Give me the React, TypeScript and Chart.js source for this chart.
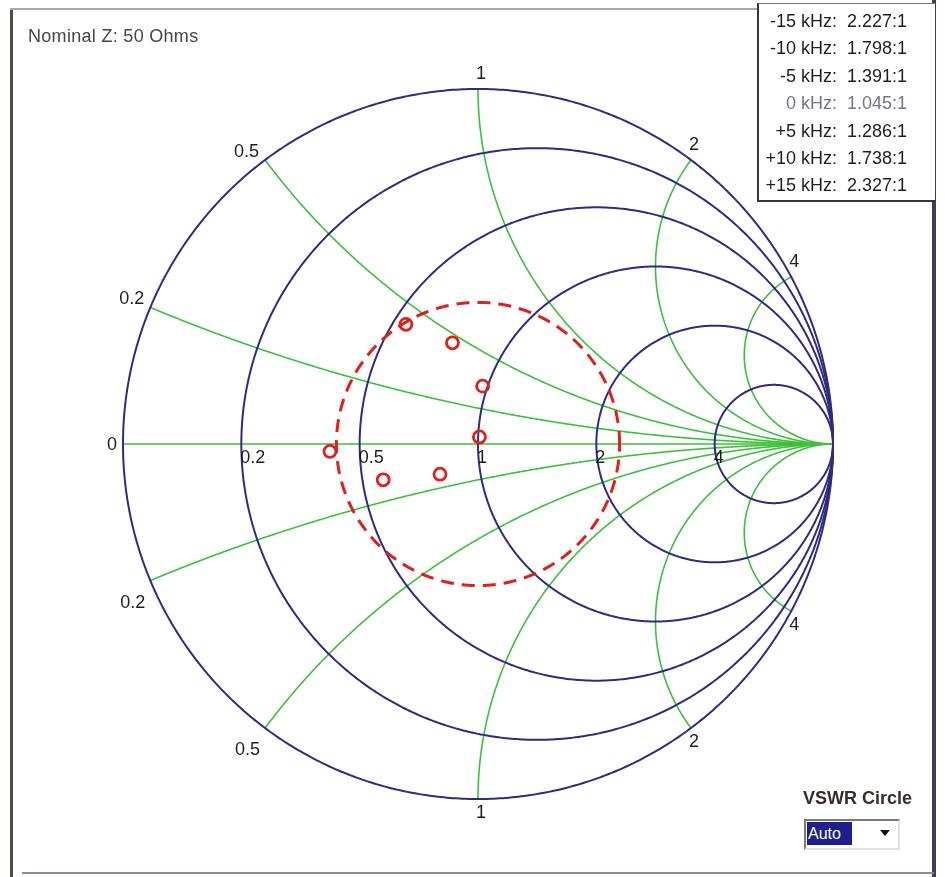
import React, { useEffect, useRef } from 'react';
import { Chart, registerables } from 'chart.js';

Chart.register(...registerables);

// ---------- data ----------
const nominalZ = '50 Ohms';
const resistanceCircles = [0, 0.2, 0.5, 1, 2, 5];
const resistanceLabels = ['', '0.2', '0.5', '1', '2', '4'];
const reactanceValues = [0.2, 0.5, 1, 2, 4];
const reactanceLabels = ['0.2', '0.5', '1', '2', '4'];
const freqLabels = ['-15 kHz', '-10 kHz', '-5 kHz', '0 kHz', '+5 kHz', '+10 kHz', '+15 kHz'];
const vswrReadings = ['2.227', '1.798', '1.391', '1.045', '1.286', '1.738', '2.327'];
// reflection coefficient (real, imaginary) of each measurement
const gammaRe = [-0.203, -0.072, 0.013, 0.004, -0.107, -0.267, -0.417];
const gammaIm = [0.337, 0.285, 0.163, 0.02, -0.085, -0.101, -0.021];

// ---------- styles ----------
const FONT = '"Liberation Sans", Arial, sans-serif';
const BLUE = '#2f2b80';
const GREEN = '#3cc03c';
const RED = '#dc211c';
const LABEL = '#231c1c';

const smithPlugin = {
  id: 'smithGrid',
  beforeDatasetsDraw(chart: any) {
    const { ctx } = chart;
    const xs = chart.scales.x;
    const ys = chart.scales.y;
    const px = (v: number) => xs.getPixelForValue(v);
    const py = (v: number) => ys.getPixelForValue(v);
    const gammaOf = (t: number, xv: number) => {
      // z = r + jx with r = t/(1-t)
      const a = 2 * t - 1;
      const b = xv * (1 - t);
      const den = 1 + b * b;
      return [(a + b * b) / den, (b - a * b) / den];
    };
    ctx.save();

    // reactance arcs (green)
    ctx.strokeStyle = GREEN;
    ctx.lineWidth = 1.6;
    for (const xv of reactanceValues) {
      for (const s of [1, -1]) {
        ctx.beginPath();
        const N = 600;
        for (let i = 0; i <= N; i++) {
          const t = i / N;
          const [gr, gi] = gammaOf(t, s * xv);
          const X = px(gr), Y = py(gi);
          if (i === 0) ctx.moveTo(X, Y); else ctx.lineTo(X, Y);
        }
        ctx.stroke();
      }
    }
    // real axis
    ctx.beginPath();
    ctx.moveTo(px(-1), py(0));
    ctx.lineTo(px(1), py(0));
    ctx.stroke();

    // resistance circles (blue)
    ctx.strokeStyle = BLUE;
    ctx.lineWidth = 2;
    for (const r of resistanceCircles) {
      const c = r / (1 + r);
      const rad = 1 / (1 + r);
      ctx.beginPath();
      const N = 720;
      for (let i = 0; i <= N; i++) {
        const a = (i / N) * Math.PI * 2;
        const X = px(c + rad * Math.cos(a));
        const Y = py(rad * Math.sin(a));
        if (i === 0) ctx.moveTo(X, Y); else ctx.lineTo(X, Y);
      }
      ctx.closePath();
      ctx.stroke();
    }

    // labels
    ctx.fillStyle = LABEL;
    ctx.font = `18px ${FONT}`;
    ctx.textAlign = 'left';
    ctx.textBaseline = 'top';
    resistanceCircles.forEach((r, i) => {
      if (!resistanceLabels[i]) return;
      const left = (r - 1) / (r + 1);
      ctx.fillText(resistanceLabels[i], px(left) - 1, py(0) + 5);
    });
    reactanceValues.forEach((xv, i) => {
      for (const s of [1, -1]) {
        const [gr, gi] = gammaOf(0, s * xv);
        const X = px(gr), Y = py(gi);
        if (gr >= -0.01) {
          ctx.textAlign = 'left';
          if (s > 0) { ctx.textBaseline = 'bottom'; ctx.fillText(reactanceLabels[i], X - 2, Y - 6); }
          else { ctx.textBaseline = 'top'; ctx.fillText(reactanceLabels[i], X - 2, Y + 5); }
        } else {
          ctx.textAlign = 'right';
          if (s > 0) { ctx.textBaseline = 'bottom'; ctx.fillText(reactanceLabels[i], X - 6, Y + 1); }
          else { ctx.textBaseline = 'top'; ctx.fillText(reactanceLabels[i], X - 5, Y + 13); }
        }
      }
    });
    ctx.textAlign = 'right';
    ctx.textBaseline = 'middle';
    ctx.fillText('0', px(-1) - 6, py(0) + 1);

    // VSWR circle (dashed red) at the largest VSWR reading
    const maxS = Math.max(...vswrReadings.map(Number));
    const g = (maxS - 1) / (maxS + 1);
    ctx.strokeStyle = RED;
    ctx.lineWidth = 3;
    ctx.setLineDash([13, 8]);
    ctx.beginPath();
    const N = 720;
    for (let i = 0; i <= N; i++) {
      const a = (i / N) * Math.PI * 2;
      const X = px(g * Math.cos(a));
      const Y = py(g * Math.sin(a));
      if (i === 0) ctx.moveTo(X, Y); else ctx.lineTo(X, Y);
    }
    ctx.stroke();
    ctx.setLineDash([]);
    ctx.restore();
  },
};

export default function App() {
  const canvasRef = useRef<HTMLCanvasElement | null>(null);

  useEffect(() => {
    if (!canvasRef.current) return;
    const chart = new Chart(canvasRef.current, {
      type: 'scatter',
      data: {
        datasets: [
          {
            label: 'Impedance',
            data: gammaRe.map((re, i) => ({ x: re, y: gammaIm[i] })),
            pointStyle: 'circle',
            pointRadius: 6,
            pointHoverRadius: 6,
            borderWidth: 2.8,
            borderColor: RED,
            backgroundColor: 'rgba(255,255,255,0)',
            showLine: false,
          },
        ],
      },
      options: {
        animation: false,
        responsive: false,
        maintainAspectRatio: false,
        layout: { padding: { left: 123, right: 112, top: 89, bottom: 78 } },
        scales: {
          x: { type: 'linear', min: -1, max: 1, display: false },
          y: { type: 'linear', min: -1, max: 1, display: false },
        },
        plugins: { legend: { display: false }, tooltip: { enabled: false } },
        events: [],
      },
      plugins: [smithPlugin],
    });
    return () => chart.destroy();
  }, []);

  const txt: React.CSSProperties = { position: 'absolute', fontFamily: FONT, whiteSpace: 'nowrap' };

  return (
    <div style={{ position: 'absolute', left: 0, top: 0, width: 945, height: 877, background: '#fff', overflow: 'hidden' }}>
      <canvas ref={canvasRef} width={945} height={877} style={{ position: 'absolute', left: 0, top: 0 }} />
      {/* window frame */}
      <div style={{ position: 'absolute', left: 10, top: 9, width: 3, height: 868, background: '#4c4c44' }} />
      <div style={{ position: 'absolute', left: 10, top: 8, width: 750, height: 2, background: '#a8a8a4' }} />
      <div style={{ position: 'absolute', left: 932, top: 0, width: 4, height: 877, background: '#3c3c5c' }} />
      <div style={{ position: 'absolute', left: 22, top: 872, width: 912, height: 2, background: '#8a8a96' }} />

      <div style={{ ...txt, left: 28, top: 26, fontSize: 18, letterSpacing: 0.3, color: '#454545' }}>Nominal Z: {nominalZ}</div>

      {/* readings box */}
      <div style={{ position: 'absolute', left: 757, top: 3, width: 176, height: 196, borderLeft: '2px solid #3a3434', borderBottom: '2px solid #3a3434', borderTop: '1px solid #777', background: '#fff' }} />
      {freqLabels.map((f, i) => {
        const color = f.startsWith('0') ? '#74748f' : LABEL;
        const top = 11 + i * 27.4;
        return (
          <React.Fragment key={f}>
            <div style={{ ...txt, left: 737, width: 100, textAlign: 'right', top, fontSize: 18, color }}>{f}:</div>
            <div style={{ ...txt, left: 847, top, fontSize: 18, color }}>{vswrReadings[i]}:1</div>
          </React.Fragment>
        );
      })}

      {/* VSWR circle control */}
      <div style={{ ...txt, left: 803, top: 788, fontSize: 18, fontWeight: 'bold', color: '#3b2b2b' }}>VSWR Circle</div>
      <div style={{ position: 'absolute', left: 804, top: 819, width: 92, height: 27, borderTop: '2px solid #7a7a7a', borderLeft: '2px solid #7a7a7a', borderBottom: '2px solid #e0e0e0', borderRight: '2px solid #e0e0e0', background: '#fff' }} />
      <div style={{ ...txt, left: 807, top: 822, width: 44, height: 23, background: '#1e1e8c', color: '#fff', fontSize: 16, lineHeight: '23px', paddingLeft: 1 }}>Auto</div>
      <div style={{ position: 'absolute', left: 880, top: 830, width: 0, height: 0, borderLeft: '5px solid transparent', borderRight: '5px solid transparent', borderTop: '6px solid #111' }} />
    </div>
  );
}
